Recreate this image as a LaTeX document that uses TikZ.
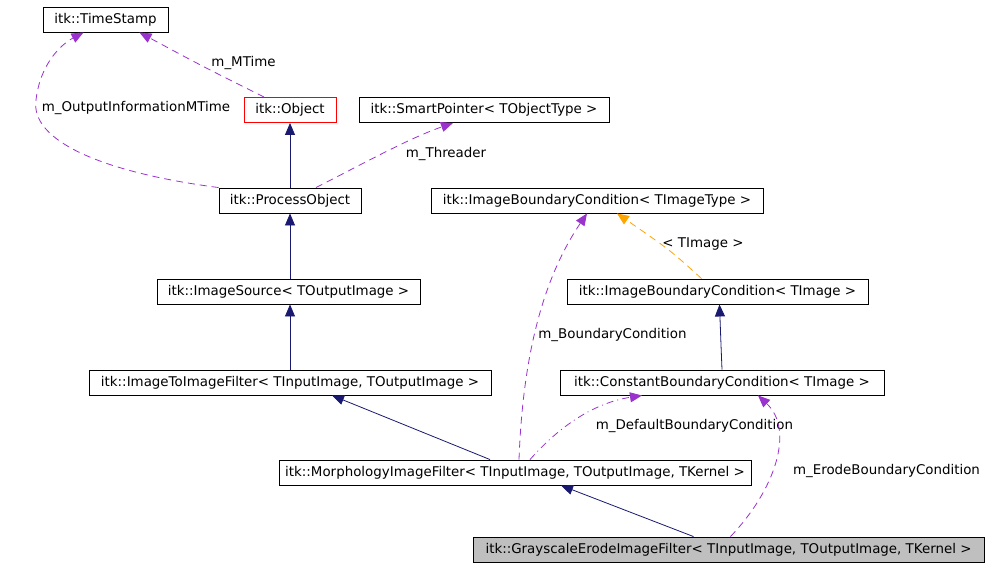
\documentclass[tikz,border=0pt]{standalone}
\usepackage{fontspec}
\setmainfont{DejaVu Sans}
\usetikzlibrary{arrows.meta}
\definecolor{inhblue}{HTML}{191970}
\definecolor{usepurple}{HTML}{9A32CD}
\definecolor{tplorange}{HTML}{FFA500}
\definecolor{boxgray}{HTML}{BFBFBF}

\begin{document}
\begin{tikzpicture}[x=1pt, y=-1pt,
  cls/.style={draw, line width=0.9pt, inner xsep=2pt, inner ysep=0pt,
    minimum height=25pt, minimum width=#1, text height=10pt, text depth=3pt,
    font=\fontsize{13.4}{16}\selectfont},
  lbl/.style={inner sep=0pt, text height=10pt, text depth=3pt,
    font=\fontsize{13.4}{16}\selectfont},
  inherit/.style={inhblue, line width=0.8pt, -{Triangle[length=12pt,width=10pt]}},
  usage/.style={usepurple, line width=0.8pt, dash pattern=on 7pt off 5pt,
    -{Triangle[length=12pt,width=10pt]}},
  tpl/.style={tplorange, line width=0.8pt, dash pattern=on 7pt off 5pt,
    -{Triangle[length=12pt,width=10pt]}}]

  \useasboundingbox (0,0) rectangle (1004,568);

  % classes
  \node[cls=125pt] (stamp) at (105.5,19.5) {itk::TimeStamp};
  \node[cls=92pt, draw=red] (obj) at (290,110) {itk::Object};
  \node[cls=250pt] (smart) at (484,110) {itk::SmartPointer< TObjectType >};
  \node[cls=142pt] (proc) at (290,200.5) {itk::ProcessObject};
  \node[cls=332pt] (ibctype) at (597,200.5) {itk::ImageBoundaryCondition< TImageType >};
  \node[cls=263pt] (src) at (288.5,291.5) {itk::ImageSource< TOutputImage >};
  \node[cls=301pt] (ibcimg) at (717.5,291.5) {itk::ImageBoundaryCondition< TImage >};
  \node[cls=402pt] (i2i) at (290,382.5) {itk::ImageToImageFilter< TInputImage, TOutputImage >};
  \node[cls=324pt] (cbc) at (722,382.5) {itk::ConstantBoundaryCondition< TImage >};
  \node[cls=472pt] (morph) at (515,472.5) {itk::MorphologyImageFilter< TInputImage, TOutputImage, TKernel >};
  \node[cls=511pt, fill=boxgray] (erode) at (728.5,549.5) {itk::GrayscaleErodeImageFilter< TInputImage, TOutputImage, TKernel >};

  % member labels
  \node[lbl] (lmtime) at (243.5,63) {m\_MTime};
  \node[lbl] (loutinfo) at (136,108) {m\_OutputInformationMTime};
  \node[lbl] (lthread) at (446,154) {m\_Threader};
  \node[lbl] (ltimage) at (703,244) {< TImage >};
  \node[lbl] (lbound) at (612.5,335) {m\_BoundaryCondition};
  \node[lbl] (ldefault) at (694.5,426) {m\_DefaultBoundaryCondition};
  \node[lbl] (lerode) at (886.5,471) {m\_ErodeBoundaryCondition};

  % inheritance
  \draw[inherit] (proc) -- (obj);
  \draw[inherit] (src.north -| proc) -- (proc);
  \draw[inherit] (i2i) -- (src.south -| i2i);
  \draw[inherit] ([xshift=-25pt]morph.north) -- ([xshift=42pt]i2i.south);
  \draw[inherit] ([xshift=-35pt]erode.north) -- ([xshift=46pt]morph.south);
  \draw[inherit] (cbc.north) .. controls (721,345) .. ([xshift=2pt]ibcimg.south);

  % template instance
  \draw[tpl] ([xshift=-16pt]ibcimg.north) .. controls (670,250) .. ([xshift=20pt]ibctype.south);

  % usage
  \draw[usage] ([xshift=-26pt]obj.north) .. controls (200,65) .. ([xshift=34pt]stamp.south);
  \draw[usage] (proc.north west) .. controls (100,172) and (30,140) .. (36,100)
    .. controls (40,65) and (60,45) .. ([xshift=-22pt]stamp.south);
  \draw[usage] ([xshift=26pt]proc.north) .. controls (370,160) and (410,138) .. ([xshift=-31pt]smart.south);
  \draw[usage] ([xshift=4pt]morph.north) .. controls (522,380) and (535,290) .. ([xshift=-10pt]ibctype.south);
  \draw[usage, dash pattern=on 7pt off 4pt on 1pt off 4pt] ([xshift=15pt]morph.north)
    .. controls (565,420) and (600,402) .. ([xshift=-80pt]cbc.south);
  \draw[usage] ([xshift=2pt]erode.north) .. controls (775,490) and (795,430) .. ([xshift=36pt]cbc.south);

\end{tikzpicture}
\end{document}
